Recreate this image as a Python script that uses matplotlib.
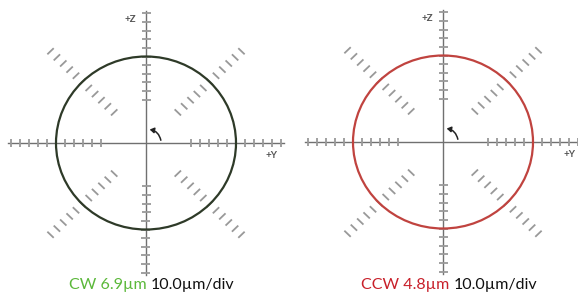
import numpy as np
import matplotlib
matplotlib.use("Agg")
import matplotlib.pyplot as plt
from matplotlib.collections import LineCollection
from matplotlib.patches import Circle, FancyArrowPatch

# data
directions = ["CW", "CCW"]
circularity_um = [6.9, 4.8]
scale_um_per_div = 10.0
trace_radius_div = [10.0, 10.0]
trace_colors = ["#2e3a28", "#c0433f"]
label_colors = ["#5bb83a", "#c8202a"]
tick_divs = [5, 6, 7, 8, 9, 10, 11, 12, 13, 14, 15]
axis_extent_div = 15.3

W, H = 578, 296
PX_X, PX_Y = 9.0, 8.65      # pixels per division
XLIM, YLIM = 16.2, 16.5
centers = [(146, 143), (443, 142)]

plt.rcParams['font.family'] = ['Lato', 'DejaVu Sans']
fig = plt.figure(figsize=(W / 100, H / 100), dpi=100)


def add_panel(cx, cy):
    w = 2 * XLIM * PX_X
    h = 2 * YLIM * PX_Y
    ax = fig.add_axes([(cx - w / 2) / W, (H - cy - h / 2) / H, w / W, h / H])
    ax.set_xlim(-XLIM, XLIM)
    ax.set_ylim(-YLIM, YLIM)
    ax.axis("off")
    return ax


def draw_grid(ax):
    # main axes
    ax.plot([-axis_extent_div, axis_extent_div], [0, 0], color="#707070", lw=1.0, zorder=2)
    ax.plot([0, 0], [-axis_extent_div, axis_extent_div], color="#707070", lw=1.0, zorder=2)
    segs = []
    half = 0.5
    for ang in range(0, 360, 45):
        a = np.deg2rad(ang)
        ux, uy = np.cos(a), np.sin(a)
        px, py = -uy, ux
        for d in tick_divs:
            x0, y0 = d * ux, d * uy
            segs.append([(x0 - half * px, y0 - half * py), (x0 + half * px, y0 + half * py)])
    ax.add_collection(LineCollection(segs, colors="#999999", linewidths=1.3, zorder=2))
    # rotation arrow
    arr = FancyArrowPatch((1.7, 0), (0.1, 1.6), connectionstyle="arc3,rad=0.42",
                          arrowstyle="-|>,head_length=2.5,head_width=1.6",
                          color="#222222", lw=1.1, zorder=4)
    ax.add_patch(arr)
    ax.text(-1.1, 14.3, "+Z", fontsize=7, fontweight="bold", color="#555555",
            ha="right", va="center")


for i, (cx, cy) in enumerate(centers):
    ax = add_panel(cx, cy)
    draw_grid(ax)
    ax.text(14.0, -1.5, "+Y", fontsize=7, fontweight="bold", color="#555555",
            ha="center", va="center", clip_on=False)
    ax.add_patch(Circle((0, 0), trace_radius_div[i], fill=False,
                        ec=trace_colors[i], lw=1.6, zorder=3))

# bottom labels, two colours on one line
fig.canvas.draw()
r = fig.canvas.get_renderer()
for i, (cx, cy) in enumerate(centers):
    t1 = fig.text(0, 0, f"{directions[i]} {circularity_um[i]}µm ", fontsize=11.5,
                  color=label_colors[i], va="baseline")
    t2 = fig.text(0, 0, f"{scale_um_per_div}µm/div", fontsize=11.5,
                  color="#111111", va="baseline")
    w1 = t1.get_window_extent(r).width
    w2 = t2.get_window_extent(r).width
    x0 = cx + 6 - (w1 + w2) / 2
    yb = (H - 289) / H
    t1.set_position((x0 / W, yb))
    t2.set_position(((x0 + w1) / W, yb))

fig.savefig("out.png", dpi=100, facecolor="white")
